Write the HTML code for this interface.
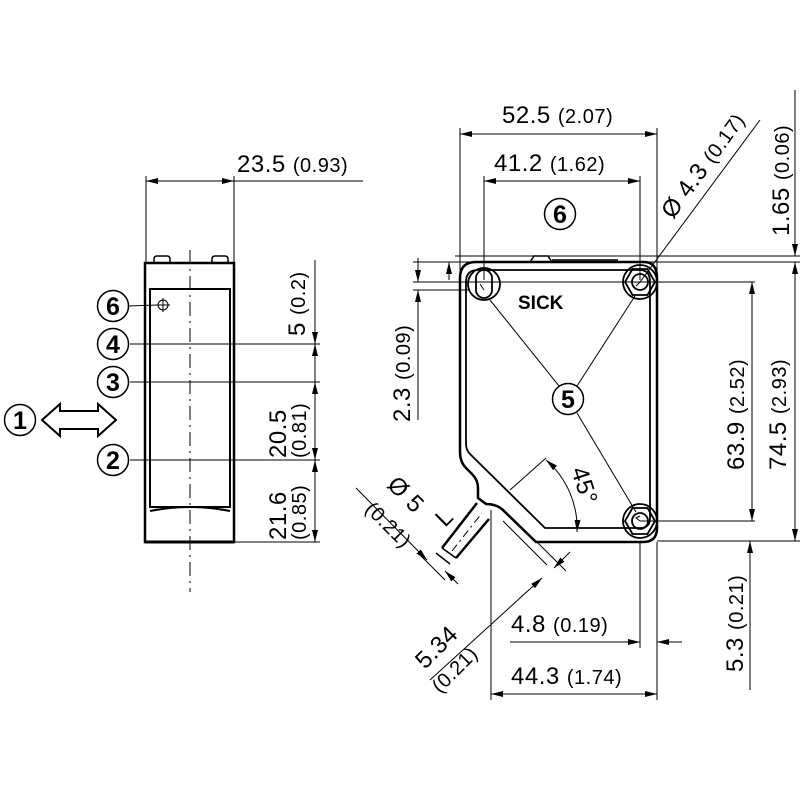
<!DOCTYPE html>
<html><head><style>body{margin:0;background:#fff}svg{display:block}text{font-family:"Liberation Sans",sans-serif;fill:#000}</style></head>
<body>
<svg width="800" height="800" viewBox="0 0 800 800" xmlns="http://www.w3.org/2000/svg">
<defs>
<marker id="a" viewBox="0 0 12 6" refX="12" refY="3" markerWidth="12" markerHeight="6" orient="auto-start-reverse" markerUnits="userSpaceOnUse"><path d="M0,0 L12,3 L0,6z" fill="#000"/></marker>
</defs>
<g stroke="#000" fill="none" stroke-width="1">
<!-- LEFT VIEW -->
<rect x="145" y="263" width="89" height="279" stroke-width="2.5"/>
<rect x="150" y="289" width="80" height="218" stroke-width="2"/>
<path d="M150,511 Q190,503 230,511" stroke-width="2"/>
<path d="M150,289 H230" stroke-width="1.5"/>
<path d="M154,263 v-4 q0,-3 3,-3 h10 q3,0 3,3 v4 M212,263 v-4 q0,-3 3,-3 h10 q3,0 3,3 v4" stroke-width="1.5"/>
<path d="M145,542 H234" stroke-width="3"/>
<line x1="190" y1="250" x2="190" y2="592" stroke-dasharray="14,5,2,5"/>
<circle cx="163" cy="305" r="5"/><path d="M156,305 h14 M163,298 v14"/>
<line x1="146" y1="176" x2="146" y2="262"/><line x1="234" y1="176" x2="234" y2="262"/>
<line x1="146" y1="181" x2="234" y2="181" marker-start="url(#a)" marker-end="url(#a)"/>
<line x1="234" y1="181" x2="363" y2="181"/>
<line x1="130" y1="344" x2="320" y2="344"/>
<line x1="130" y1="382" x2="320" y2="382"/>
<line x1="130" y1="460" x2="320" y2="460"/>
<line x1="234" y1="542" x2="320" y2="542"/>
<line x1="315" y1="260" x2="315" y2="344" marker-end="url(#a)"/>
<line x1="315" y1="382" x2="315" y2="344" marker-end="url(#a)"/>
<line x1="315" y1="382" x2="315" y2="460" marker-start="url(#a)" marker-end="url(#a)"/>
<line x1="315" y1="460" x2="315" y2="542" marker-start="url(#a)" marker-end="url(#a)"/>
<path d="M42,420 L60,404 V411 H98 V404 L116,420 L98,436 V429 H60 V436 Z" stroke-width="2"/>
<g stroke-width="1.5">
<circle cx="113" cy="306" r="15.5"/><circle cx="113" cy="344" r="15.5"/><circle cx="113" cy="382" r="15.5"/><circle cx="113" cy="460" r="15.5"/><circle cx="20" cy="420" r="15.5"/>
<circle cx="560" cy="214" r="15.5"/><circle cx="568" cy="399" r="15.5"/>
</g>
<line x1="128" y1="306" x2="157" y2="305"/>

<!-- RIGHT VIEW body -->
<path d="M460,278 Q460,262 476,262 H644 Q657,262 657,278 V528 Q657,542 643,542 H536 L505,512 Q498,504 486,504 L478,498 V488 Q478,480 472,474 L466,468 Q460,462 460,452 Z" stroke-width="2.5"/>
<path d="M466,282 Q466,270 478,270 H640 Q650,270 650,282 V518 Q650,528 640,528 H545 L470,454 Q466,450 466,444 Z" stroke-width="1.8"/>
<path d="M530,262 l4,-6 h14 l4,6" stroke-width="1.5"/>
<path d="M552,260 H618" stroke-width="1.5"/>
<path d="M477,503 L442,548 M489,519 L456,558" stroke-width="2.5"/>
<path d="M442,548 L456,558 M436,553 L450,564" stroke-width="1.5"/>
<line x1="452" y1="551" x2="482" y2="513" stroke-dasharray="8,4,2,4"/>
<g stroke-width="1.8">
<circle cx="484" cy="284" r="16"/><rect x="476" y="270" width="16" height="28" rx="8"/>
<circle cx="640" cy="282" r="17"/><polygon points="655,282 647.5,295 632.5,295 625,282 632.5,269 647.5,269"/><circle cx="640" cy="282" r="8"/>
<circle cx="640" cy="521" r="17"/><polygon points="655,521 647.5,534 632.5,534 625,521 632.5,508 647.5,508"/><circle cx="640" cy="521" r="8"/>
</g>
<path d="M484,290 l-4,-6 M640,282 l-4,4 M640,521 l-4,-3 l4,-2"/>
<line x1="490" y1="300" x2="559" y2="386"/><line x1="635" y1="296" x2="577" y2="386"/><line x1="577" y1="413" x2="636" y2="512"/>
<line x1="510" y1="490" x2="546" y2="458"/>
<path d="M546,460 A90,90 0 0 1 577,532" marker-start="url(#a)" marker-end="url(#a)"/>
<line x1="460" y1="128" x2="460" y2="272"/><line x1="657" y1="128" x2="657" y2="280"/>
<line x1="460" y1="134" x2="657" y2="134" marker-start="url(#a)" marker-end="url(#a)"/>
<line x1="484" y1="176" x2="484" y2="280"/><line x1="640" y1="176" x2="640" y2="280"/>
<line x1="484" y1="181" x2="640" y2="181" marker-start="url(#a)" marker-end="url(#a)"/>
<line x1="640" y1="282" x2="760" y2="120"/>
<line x1="455" y1="256" x2="800" y2="256"/>
<line x1="413" y1="262" x2="800" y2="262"/>
<line x1="413" y1="282" x2="755" y2="282"/>
<line x1="413" y1="290" x2="470" y2="290"/>
<line x1="795" y1="90" x2="795" y2="256" marker-end="url(#a)"/>
<line x1="795" y1="262" x2="795" y2="541" marker-start="url(#a)" marker-end="url(#a)"/>
<line x1="752" y1="282" x2="752" y2="521" marker-start="url(#a)" marker-end="url(#a)"/>
<line x1="640" y1="521" x2="755" y2="521"/>
<line x1="657" y1="541" x2="800" y2="541"/>
<line x1="750" y1="690" x2="750" y2="541" marker-end="url(#a)"/>
<line x1="418" y1="258" x2="418" y2="282" marker-end="url(#a)"/>
<line x1="418" y1="420" x2="418" y2="290" marker-end="url(#a)"/>
<line x1="449" y1="280" x2="449" y2="262" marker-end="url(#a)"/>
<line x1="491" y1="510" x2="491" y2="700"/><line x1="657" y1="542" x2="657" y2="700"/>
<line x1="640" y1="542" x2="640" y2="648"/>
<line x1="510" y1="642" x2="640" y2="642" marker-end="url(#a)"/>
<line x1="682" y1="642" x2="657" y2="642" marker-end="url(#a)"/>
<line x1="491" y1="694" x2="657" y2="694" marker-start="url(#a)" marker-end="url(#a)"/>
<line x1="503" y1="521" x2="547" y2="565"/><line x1="536" y1="541" x2="566" y2="571"/>
<line x1="430" y1="680" x2="542" y2="578" marker-end="url(#a)"/>
<line x1="570" y1="552" x2="554" y2="568" marker-end="url(#a)"/>
<line x1="356" y1="488" x2="427" y2="560" marker-end="url(#a)"/>
<line x1="458" y1="584" x2="445" y2="571" marker-end="url(#a)"/>
<line x1="420" y1="555" x2="445" y2="580"/>
</g>
<g font-size="24" letter-spacing="0.5">
<text x="237" y="172">23.5 <tspan font-size="20">(0.93)</tspan></text>
<text x="502" y="123">52.5 <tspan font-size="20">(2.07)</tspan></text>
<text x="494" y="171">41.2 <tspan font-size="20">(1.62)</tspan></text>
<text x="511" y="632">4.8 <tspan font-size="20">(0.19)</tspan></text>
<text x="511" y="684">44.3 <tspan font-size="20">(1.74)</tspan></text>
<text transform="translate(305,336) rotate(-90)">5 <tspan font-size="20">(0.2)</tspan></text>
<text transform="translate(286,458) rotate(-90)">20.5</text>
<text transform="translate(306,458) rotate(-90)" font-size="20">(0.81)</text>
<text transform="translate(286,540) rotate(-90)">21.6</text>
<text transform="translate(306,540) rotate(-90)" font-size="20">(0.85)</text>
<text transform="translate(410,422) rotate(-90)">2.3 <tspan font-size="20">(0.09)</tspan></text>
<text transform="translate(789,236) rotate(-90)">1.65 <tspan font-size="20">(0.06)</tspan></text>
<text transform="translate(744,470) rotate(-90)">63.9 <tspan font-size="20">(2.52)</tspan></text>
<text transform="translate(786,470) rotate(-90)">74.5 <tspan font-size="20">(2.93)</tspan></text>
<text transform="translate(743,672) rotate(-90)">5.3 <tspan font-size="20">(0.21)</tspan></text>
<text transform="translate(673,220) rotate(-54)">Ø 4.3 <tspan font-size="20">(0.17)</tspan></text>
<text transform="translate(571,470) rotate(72)">45°</text>
<text transform="translate(386,486) rotate(45)">Ø 5</text>
<text transform="translate(364,510) rotate(45)" font-size="20">(0.21)</text>
<text transform="translate(445,528) rotate(-45)">L</text>
<text transform="translate(425,670) rotate(-45)">5.34</text>
<text transform="translate(440,694) rotate(-45)" font-size="20">(0.21)</text>
</g>
<text x="518" y="309" font-size="19" font-weight="bold">SICK</text>
<g font-size="25" font-weight="bold" text-anchor="middle">
<text x="113" y="315">6</text><text x="113" y="353">4</text><text x="113" y="391">3</text><text x="113" y="469">2</text><text x="20" y="429">1</text>
<text x="560" y="223">6</text><text x="568" y="408">5</text>
</g>
</svg>
</body></html>
